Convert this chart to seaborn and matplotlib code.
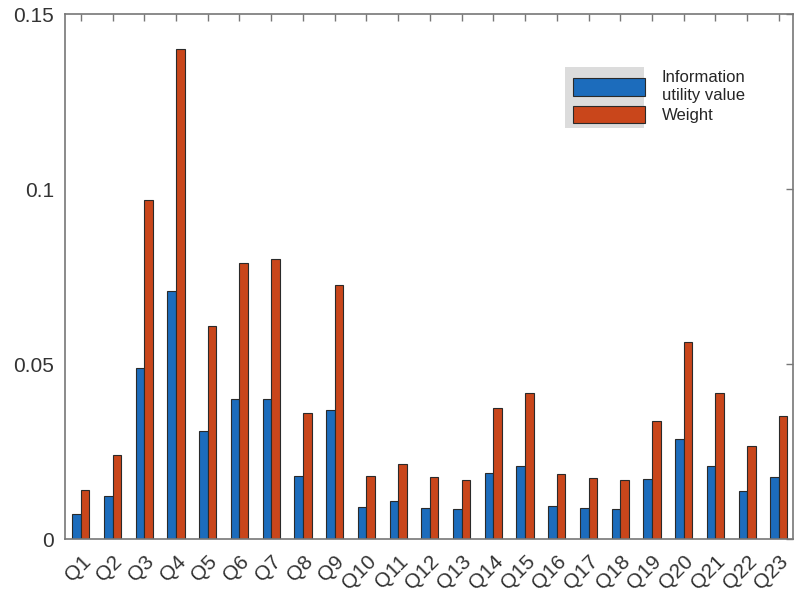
import pandas as pd
import seaborn as sns
import matplotlib.pyplot as plt
from matplotlib.patches import Rectangle

# Chart data
questions = ['Q%d' % i for i in range(1, 24)]
info_utility = [0.0072, 0.0123, 0.049, 0.071, 0.031, 0.040, 0.040, 0.018, 0.037,
                0.0092, 0.011, 0.0089, 0.0086, 0.019, 0.021, 0.0094, 0.0089, 0.0086,
                0.0172, 0.0286, 0.021, 0.0137, 0.0178]
weight = [0.014, 0.024, 0.097, 0.140, 0.061, 0.079, 0.080, 0.036, 0.0727,
          0.018, 0.0215, 0.0178, 0.0169, 0.0375, 0.0418, 0.0186, 0.0175, 0.0169,
          0.0338, 0.0564, 0.0418, 0.0266, 0.0352]
series_names = ['Information\nutility value', 'Weight']

df = pd.DataFrame({
    'question': questions * 2,
    'value': info_utility + weight,
    'series': [series_names[0]] * len(questions) + [series_names[1]] * len(questions),
})

sns.set_style('white')
plt.rcParams['font.family'] = ['Liberation Sans', 'DejaVu Sans']

fig = plt.figure(figsize=(8.02, 5.97), dpi=100)
ax = fig.add_axes([0.081, 0.097, 0.908, 0.8795])

sns.barplot(data=df, x='question', y='value', hue='series',
            palette=['#1c6cbc', '#c9461b'], saturation=1, width=0.54, gap=0,
            edgecolor='#2a2a2a', linewidth=0.8, ax=ax)

ax.set_xlim(-0.5, 22.45)
ax.set_ylim(0, 0.15)
ax.set_yticks([0, 0.05, 0.1, 0.15])
ax.set_yticklabels(['0', '0.05', '0.1', '0.15'])
ax.set_xlabel('')
ax.set_ylabel('')

for s in ax.spines.values():
    s.set_color('#777777')
    s.set_linewidth(1.2)
ax.tick_params(direction='in', length=5, color='#777777', top=True, right=True,
               labelsize=15, labelcolor='#333333', width=1)
ax.tick_params(axis='x', pad=9)
ax.tick_params(axis='y', pad=8)
plt.setp(ax.get_xticklabels(), rotation=45, ha='right', rotation_mode='anchor')

# grey box behind legend handles
ax.add_patch(Rectangle((0.686, 0.783), 0.109, 0.117, transform=ax.transAxes,
                       facecolor='#dcdcdc', edgecolor='none', zorder=4))
leg = ax.legend(loc='upper left', bbox_to_anchor=(0.68, 0.918), frameon=False,
                fontsize=12, handlelength=4.3, handleheight=1.2,
                labelspacing=0.2, handletextpad=1.0, borderpad=0.3)
leg.set_zorder(5)

fig.savefig('out.png', dpi=100)
